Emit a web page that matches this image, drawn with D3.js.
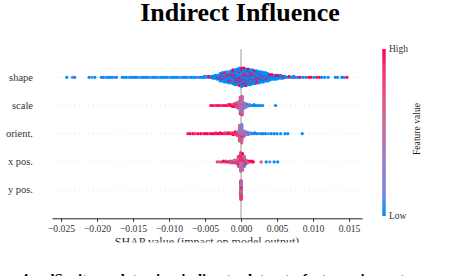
<!DOCTYPE html>
<html>
<head>
<meta charset="utf-8">
<script src="https://cdn.jsdelivr.net/npm/d3@7"></script>
<style>
  body { margin: 0; background: #fff; }
  svg { display: block; font-family: 'Liberation Serif', 'Times New Roman', serif; }
</style>
</head>
<body>
<div id="chart"></div>
<script>
const features = ['shape', 'scale', 'orient.', 'x pos.', 'y pos.']
const xTicks = [-0.025, -0.02, -0.015, -0.01, -0.005, 0, 0.005, 0.01, 0.015]

// one entry per column of dots: [SHAP value x 1e-3, feature level of each dot (0 = low ... 9 = high)]
const shapeDots = [
  [-24.2, '0'], [-23.4, '1'], [-23.1, '0'],
  [-21.1, '0'], [-20.7, '1'], [-20.3, '0'],
  [-19.4, '0'], [-19.1, '0'], [-18.8, '1'], [-18.5, '0'], [-18.2, '0'], [-17.9, '0'], [-17.6, '1'], [-17.3, '0'],
  [-16.5, '0'], [-16.2, '0'], [-15.9, '0'], [-15.6, '1'], [-15.3, '0'], [-15.0, '0'], [-14.7, '0'],
  [-14.4, '0'], [-14.1, '1'], [-13.8, '0'], [-13.5, '0'], [-13.2, '0'], [-12.9, '0'], [-12.6, '1'],
  [-12.3, '0'], [-12.0, '0'], [-11.7, '0'], [-11.4, '1'], [-11.1, '0'], [-10.8, '0'], [-10.5, '0'],
  [-10.2, '0'], [-9.9, '1'], [-9.6, '0'], [-9.3, '0'], [-9.0, '0'], [-8.7, '0'], [-8.4, '1'],
  [-8.1, '0'], [-7.8, '0'], [-7.5, '0'], [-7.2, '1'], [-6.9, '0'], [-6.6, '0'], [-6.3, '0'],
  [-6.0, '1'], [-5.7, '0'], [-5.4, '0'], [-5.1, '00'], [-4.8, '01'], [-4.5, '09'], [-4.2, '90'],
  [-3.9, '000'], [-3.6, '0900'], [-3.3, '00900'],
  [-2.9, '009090000'], [-2.6, '0900009900'], [-2.3, '90009005090'], [-2.0, '009900090000'],
  [-1.7, '0900090090950'], [-1.4, '90000909009000'], [-1.1, '0099000950000909'],
  [-0.8, '09000990009000900'], [-0.5, '900090009500099000'], [-0.2, '00909000900990000090'],
  [0.1, '900009950090000990090'], [0.4, '09000990090000909009'], [0.7, '9000090099000090009'],
  [1.0, '090900000590090009'], [1.3, '90000990090000900'], [1.6, '0900090009900000'],
  [1.9, '900009950000090'], [2.2, '09009000009090'], [2.5, '9000909009000'], [2.8, '090000990000'],
  [3.1, '90090000900'], [3.4, '0900009000'], [3.7, '900090000'], [4.0, '0900090'], [4.3, '900009'],
  [4.6, '09000'], [4.9, '90090'], [5.2, '0009'], [5.5, '9000'], [5.8, '090'],
  [6.1, '90'], [6.4, '0'], [6.7, '09'], [7.0, '0'], [7.3, '90'], [7.6, '0'], [7.9, '0'], [8.2, '9'],
  [8.6, '0'], [9.0, '0'], [9.4, '9'], [9.7, '9'], [10.1, '0'], [10.5, '9'], [10.9, '9'], [11.2, '0'],
  [11.6, '0'], [12.1, '0'], [13.1, '0'], [13.4, '0'], [14.0, '0'], [14.3, '0'], [14.7, '9']
]

const scaleDots = [
  [-4.2, '9'], [-3.9, '9'], [-3.6, '8'], [-3.3, '9'], [-3.0, '9'], [-2.7, '8'], [-2.4, '9'],
  [-2.1, '9'], [-1.8, '98'], [-1.5, '89'], [-1.2, '979'], [-0.9, '8796'], [-0.6, '786947'],
  [-0.35, '56479365'], [-0.1, '4536253645365425368'], [0.15, '354624536524635426358'],
  [0.4, '3526241'], [0.65, '20314'], [0.9, '102'], [1.2, '01'], [1.5, '0'], [1.8, '00'],
  [2.1, '0'], [2.4, '0'], [2.7, '0'], [3.0, '0'], [4.8, '0']
]

const orientDots = [
  [-7.4, '8'], [-7.1, '9'], [-6.7, '9'], [-6.4, '8'], [-6.0, '9'], [-5.6, '9'], [-5.3, '7'],
  [-5.0, '9'], [-4.7, '9'], [-4.4, '8'], [-4.1, '9'], [-3.8, '9'], [-3.5, '98'], [-3.2, '9'],
  [-2.9, '89'], [-2.6, '9'], [-2.3, '97'], [-2.0, '98'], [-1.7, '89'], [-1.4, '97'], [-1.1, '789'],
  [-0.8, '6879'], [-0.5, '86957'], [-0.2, '547362815463725364'], [0.1, '436251748305426173425'],
  [0.4, '4352637'], [0.7, '3142'], [1.0, '201'], [1.3, '12'], [1.6, '0'], [1.9, '10'], [2.2, '0'],
  [2.5, '1'], [2.8, '0'], [3.1, '0'], [3.4, '0'], [3.8, '1'], [4.2, '0'], [4.6, '0'], [5.0, '0'],
  [5.5, '0'], [6.1, '0'], [6.5, '0'], [8.5, '0']
]

const xPosDots = [
  [-3.3, '7'], [-3.0, '5'], [-2.7, '8'], [-2.4, '69'], [-2.1, '97'], [-1.8, '9'], [-1.5, '806'],
  [-1.2, '968'], [-0.9, '9784'], [-0.6, '86952'], [-0.35, '596874938568'],
  [-0.05, '586749385627493856274'], [0.2, '6957483629485736295'], [0.45, '795849638574'],
  [0.7, '86940'], [0.95, '985'], [1.2, '59'], [1.5, '89'], [1.7, '9'], [2.8, '6'],
  [3.5, '0'], [4.0, '1'], [4.6, '0'], [5.1, '0']
]

const yPosDots = [
  [-0.05, '537264819375264819372'], [0.05, '462857391462857391468']
]

const rows = [shapeDots, scaleDots, orientDots, xPosDots, yPosDots]

const width = 454
const height = 276
const serif = "'Liberation Serif', 'Times New Roman', serif"

const svg = d3
  .select('#chart')
  .append('svg')
  .attr('width', width)
  .attr('height', height)

const xPositionScale = d3.scaleLinear().domain([-0.02625, 0.0168]).range([52, 362])
const yPositionScale = d3.scaleLinear().domain([-1, features.length]).range([218.3, 49.1])
const colorScale = d3
  .scaleLinear()
  .domain([0, 9])
  .range(['#008bfb', '#ff0051'])
  .interpolate(d3.interpolateLab)

const rowPos = i => features.length - 1 - i

// faint dotted guide line for each feature
svg
  .selectAll('.row-line')
  .data(features)
  .enter()
  .append('line')
  .attr('x1', xPositionScale.range()[0])
  .attr('x2', xPositionScale.range()[1])
  .attr('y1', (d, i) => yPositionScale(rowPos(i)))
  .attr('y2', (d, i) => yPositionScale(rowPos(i)))
  .attr('stroke', '#cccccc')
  .attr('stroke-width', 0.6)
  .attr('stroke-dasharray', '1,3.5')

svg
  .append('line')
  .attr('x1', xPositionScale(0))
  .attr('x2', xPositionScale(0))
  .attr('y1', yPositionScale(features.length))
  .attr('y2', yPositionScale(-1))
  .attr('stroke', '#999999')
  .attr('stroke-width', 1)

// beeswarm: dots of one column stack up/down from the row line
rows.forEach((cols, i) => {
  const maxN = d3.max(cols, c => c[1].length)
  const maxLayer = Math.ceil((maxN - 1) / 2)
  const unit = (0.9 * 0.4) / (maxLayer + 1)
  const dots = []
  cols.forEach(([v, levels]) => {
    levels.split('').forEach((f, k) => {
      const layer = Math.ceil(k / 2) * (k % 2 ? 1 : -1)
      dots.push({ shap: v / 1000, level: +f, off: layer * unit })
    })
  })
  svg
    .append('g')
    .selectAll('circle')
    .data(dots)
    .enter()
    .append('circle')
    .attr('cx', d => xPositionScale(d.shap))
    .attr('cy', d => yPositionScale(rowPos(i) + d.off))
    .attr('r', 1.6)
    .attr('fill', d => colorScale(d.level))
})

svg
  .selectAll('.feature-label')
  .data(features)
  .enter()
  .append('text')
  .text(d => d)
  .attr('x', 33)
  .attr('y', (d, i) => yPositionScale(rowPos(i)))
  .attr('dy', '0.32em')
  .attr('text-anchor', 'end')
  .style('font-family', serif)
  .style('font-size', '10.5px')
  .attr('fill', '#333')

const xAxis = d3
  .axisBottom(xPositionScale)
  .tickValues(xTicks)
  .tickSize(3.5)
  .tickSizeOuter(0)
  .tickPadding(3)
  .tickFormat(d3.format('.3f'))

const axisG = svg
  .append('g')
  .attr('transform', 'translate(0,218.3)')
  .call(xAxis)
  .attr('font-family', serif)
axisG.select('.domain').attr('stroke', '#222')
axisG.selectAll('.tick line').attr('stroke', '#333')
axisG
  .selectAll('.tick text')
  .attr('fill', '#333')
  .style('font-size', '9.7px')
  .style('font-family', serif)

// x label is cut off by the crop of the page
svg
  .append('clipPath')
  .attr('id', 'label-clip')
  .append('rect')
  .attr('x', 0)
  .attr('y', 225)
  .attr('width', width)
  .attr('height', 17.5)

svg
  .append('text')
  .text('SHAP value (impact on model output)')
  .attr('x', 207)
  .attr('y', 246)
  .attr('text-anchor', 'middle')
  .attr('clip-path', 'url(#label-clip)')
  .style('font-family', serif)
  .style('font-size', '12px')
  .attr('fill', '#333')

svg
  .append('text')
  .text('Indirect Influence')
  .attr('x', 240)
  .attr('y', 21)
  .attr('text-anchor', 'middle')
  .style('font-family', serif)
  .style('font-size', '26px')
  .style('font-weight', 'bold')
  .attr('fill', '#000')

// colour bar
const grad = svg
  .append('defs')
  .append('linearGradient')
  .attr('id', 'fv-grad')
  .attr('x1', 0)
  .attr('y1', 1)
  .attr('x2', 0)
  .attr('y2', 0)

grad
  .selectAll('stop')
  .data(d3.range(0, 10))
  .enter()
  .append('stop')
  .attr('offset', d => d / 9)
  .attr('stop-color', d => colorScale(d))

svg
  .append('rect')
  .attr('x', 382.3)
  .attr('y', 49)
  .attr('width', 3.4)
  .attr('height', 167)
  .attr('fill', 'url(#fv-grad)')

svg
  .append('text')
  .text('High')
  .attr('x', 389)
  .attr('y', 49)
  .attr('dy', '0.35em')
  .style('font-family', serif)
  .style('font-size', '9.5px')
  .attr('fill', '#333')

svg
  .append('text')
  .text('Low')
  .attr('x', 389)
  .attr('y', 216)
  .attr('dy', '0.35em')
  .style('font-family', serif)
  .style('font-size', '9.5px')
  .attr('fill', '#333')

svg
  .append('text')
  .text('Feature value')
  .attr('transform', 'translate(419.5,129) rotate(-90)')
  .attr('text-anchor', 'middle')
  .style('font-family', serif)
  .style('font-size', '9.6px')
  .attr('fill', '#222')

// top of the figure caption below, cut off by the crop
svg
  .append('text')
  .text('4: dSprites plots in indirect dataset feature importance')
  .attr('x', 21)
  .attr('y', 284)
  .style('font-family', serif)
  .style('font-size', '15px')
  .style('font-weight', 'bold')
  .style('word-spacing', '9px')
  .attr('fill', '#000')
</script>
</body>
</html>
